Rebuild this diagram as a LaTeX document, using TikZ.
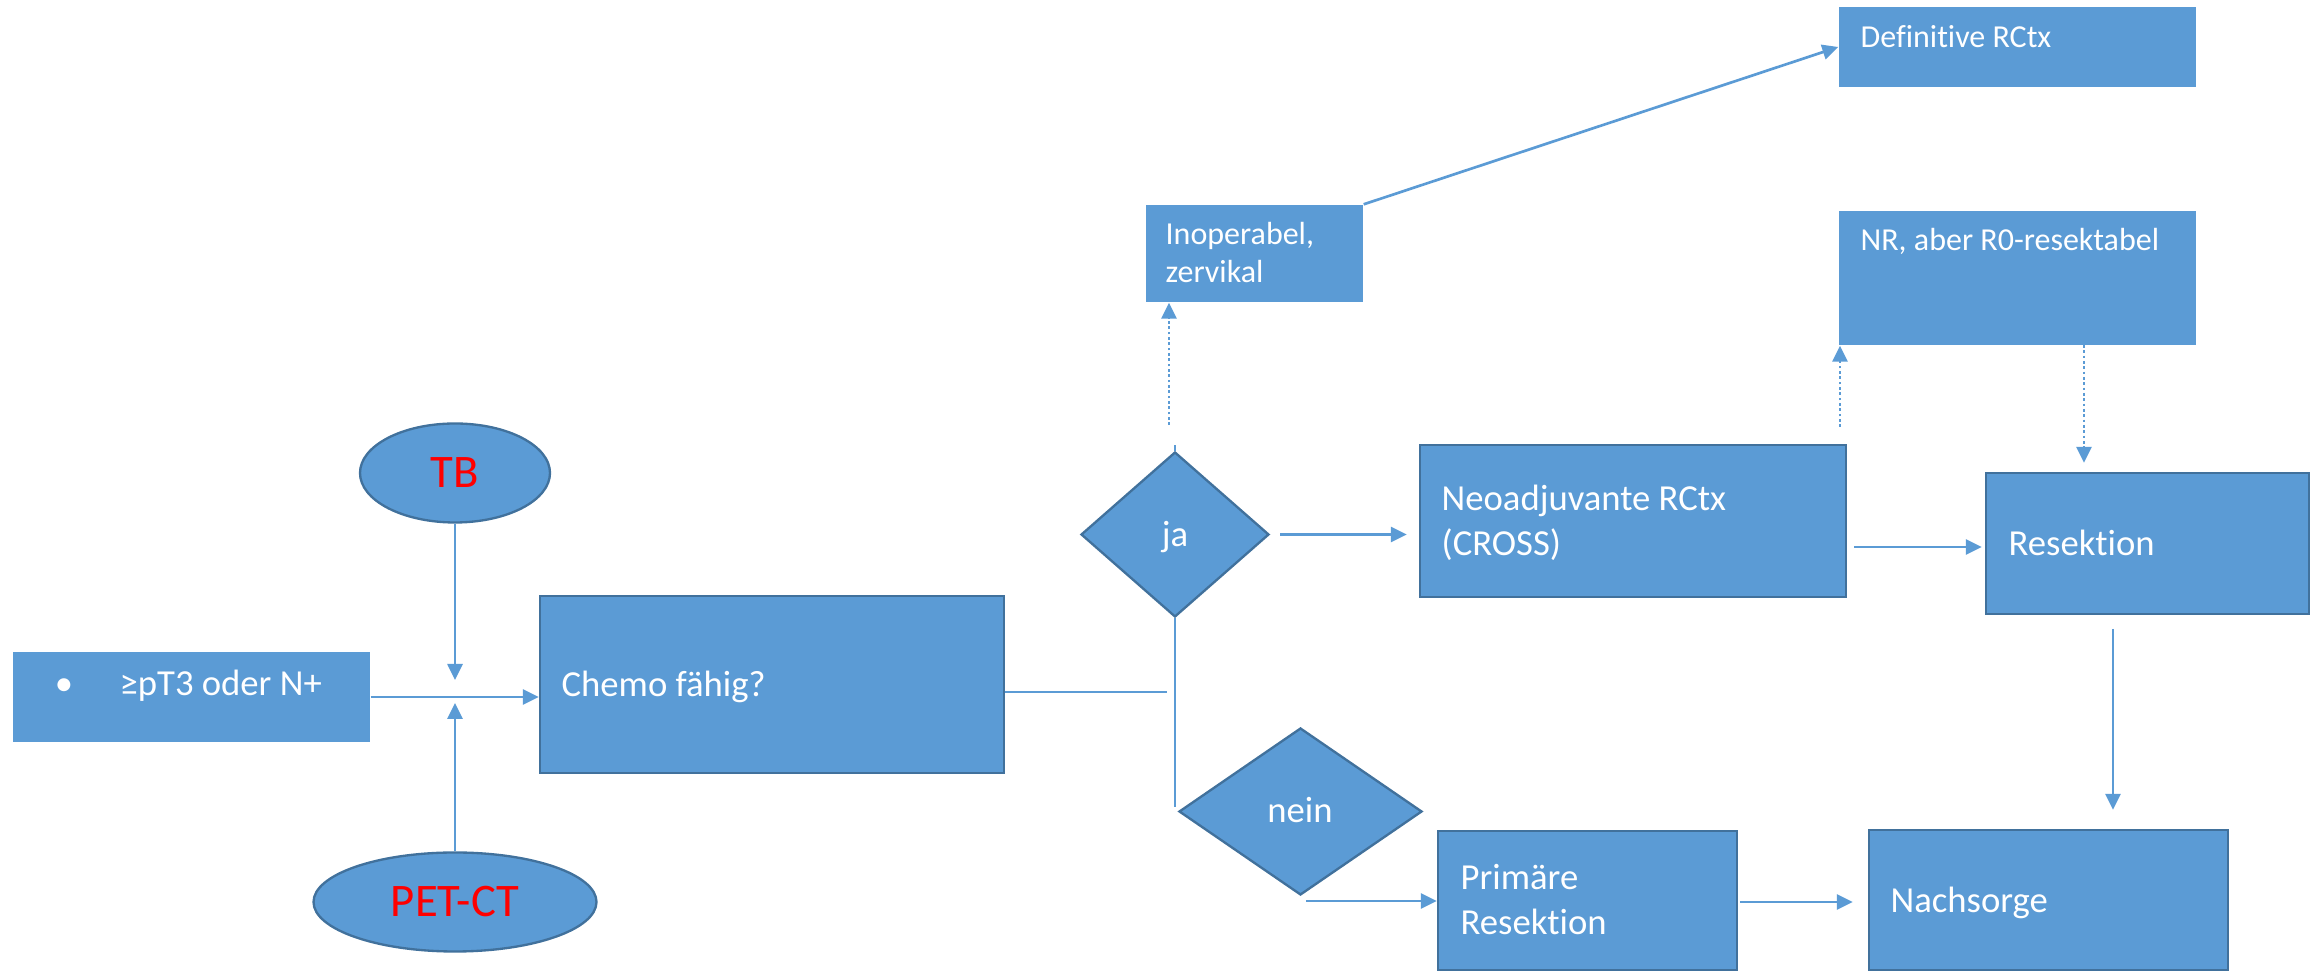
\documentclass[tikz,border=0pt]{standalone}
\usepackage{fontspec}
\setmainfont{Carlito}[Ligatures={NoCommon}]
\usetikzlibrary{arrows.meta,shapes.geometric,calc}
\definecolor{obl}{HTML}{5B9BD5}
\definecolor{obd}{HTML}{41719C}
\definecolor{ored}{HTML}{FF0000}
\begin{document}
\begin{tikzpicture}[x=0.3pt,y=-0.3pt,
  box/.style={draw=obd, line width=0.7pt, fill=obl, rectangle, inner sep=0pt},
  flat/.style={fill=obl, rectangle, inner sep=0pt},
  dia/.style={draw=obd, line width=0.7pt, fill=obl, diamond, inner sep=0pt},
  ell/.style={draw=obd, line width=0.7pt, fill=obl, ellipse, inner sep=0pt, text=ored, font=\fontsize{14}{16}\selectfont},
  txt/.style={text=white, inner sep=0pt, font=\fontsize{11}{13}\selectfont},
  stxt/.style={text=white, inner sep=0pt, font=\fontsize{9.6}{11.5}\selectfont},
  ln/.style={draw=obl, line width=0.8pt},
  arr/.style={draw=obl, line width=0.8pt, -{Triangle[length=4.8pt,width=4.5pt]}},
  darr/.style={arr, dash pattern=on 0.8pt off 0.8pt}]
\useasboundingbox (0,0) rectangle (2318,971);

% boxes
\node[flat, minimum width=107.1pt, minimum height=27pt] (inp) at (191.5,697) {};
\node[box, minimum width=139.2pt, minimum height=53.1pt] (chemo) at (772,684.5) {};
\node[flat, minimum width=65.1pt, minimum height=29.1pt] (inop) at (1254.5,253.5) {};
\node[flat, minimum width=107.1pt, minimum height=24pt] (defi) at (2017.5,47) {};
\node[flat, minimum width=107.1pt, minimum height=40.2pt] (nr) at (2017.5,278) {};
\node[box, minimum width=127.8pt, minimum height=45.6pt] (neo) at (1633,521) {};
\node[box, minimum width=96.9pt, minimum height=42.3pt] (res) at (2147.5,543.5) {};
\node[box, minimum width=89.7pt, minimum height=41.7pt] (prim) at (1587.5,900.5) {};
\node[box, minimum width=107.7pt, minimum height=42pt] (nach) at (2048.5,900) {};
\node[dia, minimum width=56.4pt, minimum height=49.5pt] (ja) at (1175,534.5) {};
\node[dia, minimum width=72.9pt, minimum height=50.1pt] (nein) at (1300.5,811.5) {};
\node[ell, minimum width=57pt, minimum height=29.7pt] (tb) at (455,473) {TB};
\node[ell, minimum width=84.9pt, minimum height=29.7pt] (pet) at (455,902) {PET-CT};

% texts
\node[txt, anchor=base] (inp-b) at (64,696) {•};
\node[txt, anchor=base west] (inp-t) at (119,696) {≥pT3 oder N+};
\node[txt, anchor=base west] (chemo-t) at (561,697) {Chemo fähig?};
\node[stxt, anchor=base west] (inop-t1) at (1165,245) {Inoperabel,};
\node[stxt, anchor=base west] (inop-t2) at (1165,283) {zervikal};
\node[stxt, anchor=base west] (defi-t) at (1860,48) {Definitive RCtx};
\node[stxt, anchor=base west] (nr-t) at (1860,251) {NR, aber R0-resektabel};
\node[txt, anchor=base west] (neo-t1) at (1441,511) {Neoadjuvante RCtx};
\node[txt, anchor=base west] (neo-t2) at (1441,556) {(CROSS)};
\node[txt, anchor=base west] (res-t) at (2008,556) {Resektion};
\node[txt, anchor=base west] (prim-t1) at (1460,890) {Primäre};
\node[txt, anchor=base west] (prim-t2) at (1460,935) {Resektion};
\node[txt, anchor=base west] (nach-t) at (1890,913) {Nachsorge};
\node[txt, anchor=base] (ja-t) at (1175,547) {ja};
\node[txt, anchor=base] (nein-t) at (1300,823) {nein};

% free ends
\coordinate (jt) at (455,680);
\coordinate (jb) at (455,703);
\coordinate (c1) at (1167,692);
\coordinate (c2) at (1175,807);
\coordinate (c3) at (1175,445);
\coordinate (d1) at (1169,425);
\coordinate (d2) at (1840,427);
\coordinate (d3) at (2084,345);
\coordinate (e1) at (1854,547);
\coordinate (e2) at (2113,629);
\coordinate (e3) at (1306,901);
\coordinate (e4) at (1740,902);

% connectors
\draw[arr] (inp.east) -- (inp.east -| chemo.west);
\draw[arr] (tb.south) -- (jt);
\draw[arr] (pet.north) -- (jb);
\draw[ln] (chemo.east |- c1) -- (c1);
\draw[ln] (ja.south) -- (c2);
\draw[ln] (ja.north) -- (c3);
\draw[darr] (d1) -- (d1 |- inop.south);
\draw[arr] (inop.north east) -- (defi.west);
\draw[arr, shorten <=3pt, shorten >=3.6pt] (ja.east) -- (ja.east -| neo.west);
\draw[darr] (d2) -- (d2 |- nr.south);
\draw[darr, shorten >=2.7pt] (d3) -- (d3 |- res.north);
\draw[arr, shorten >=0.9pt] (e1) -- (e1 -| res.west);
\draw[arr, shorten >=5.7pt] (e2) -- (e2 |- nach.north);
\draw[arr] (e3) -- (e3 -| prim.west);
\draw[arr, shorten >=4.5pt] (e4) -- (e4 -| nach.west);
\end{tikzpicture}
\end{document}
